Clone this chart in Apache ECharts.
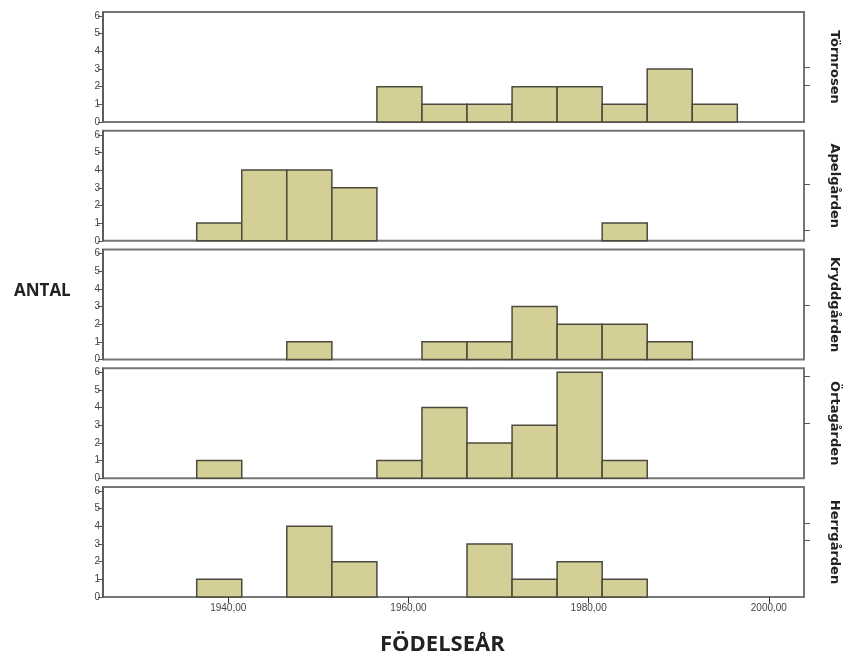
<!DOCTYPE html>
<html><head><meta charset="utf-8">
<script src="https://cdn.jsdelivr.net/npm/echarts@6/dist/echarts.min.js"></script>
<style>html,body{margin:0;padding:0;background:#fff}#c{width:849px;height:669px}</style>
</head><body><div id="c"></div>
<script>
const panels = ['Törnrosen', 'Apelgården', 'Kryddgården', 'Örtagården', 'Herrgården'];
const binCenters = [1939, 1944, 1949, 1954, 1959, 1964, 1969, 1974, 1979, 1984, 1989, 1994];
const tornrosen  = [0, 0, 0, 0, 2, 1, 1, 2, 2, 1, 3, 1];
const apelgarden = [1, 4, 4, 3, 0, 0, 0, 0, 0, 1, 0, 0];
const kryddgarden = [0, 0, 1, 0, 0, 1, 1, 3, 2, 2, 1, 0];
const ortagarden = [1, 0, 0, 0, 1, 4, 2, 3, 6, 1, 0, 0];
const herrgarden = [1, 0, 4, 2, 0, 0, 3, 1, 2, 1, 0, 0];
const binWidth = 5;
const yTicks = [0, 1, 2, 3, 4, 5, 6];
const xTicks = [1940, 1960, 1980, 2000];
const rightTicks = [[2.06, 3.1], [0.57, 3.2], [3.1], [3.1, 5.8], [3.2, 4.2]];
const seriesData = [tornrosen, apelgarden, kryddgarden, ortagarden, herrgarden];

const chart = echarts.init(document.getElementById('c'), null, {renderer: 'canvas'});
const grids = [], xAxes = [], yAxes = [], series = [];
const N = panels.length;
for (let i = 0; i < N; i++) {
  const last = i === N - 1;
  grids.push({left: 103, right: 40, top: 12 + i * 118.75, height: 110, show: true,
    borderColor: '#767676', borderWidth: 2, backgroundColor: '#fff'});
  xAxes.push({type: 'value', gridIndex: i, min: 1926.1, max: 2003.9,
    splitLine: {show: false},
    axisLine: {show: false},
    axisTick: {show: last, customValues: xTicks, length: 6, lineStyle: {color: '#333'}},
    axisLabel: {show: last, customValues: xTicks, margin: 6, fontSize: 10, color: '#444',
      fontFamily: 'Liberation Sans',
      formatter: v => v.toFixed(2).replace('.', ',')}});
  yAxes.push({type: 'value', gridIndex: i, min: 0, max: 6.23, position: 'left',
    splitLine: {show: false},
    axisLine: {show: true, lineStyle: {color: '#555', width: 1.5}},
    axisTick: {show: true, customValues: yTicks, length: 5, lineStyle: {color: '#555'}},
    axisLabel: {customValues: yTicks, fontSize: 10, color: '#444', margin: 3, fontFamily: 'Liberation Sans'}});
  series.push({type: 'custom', xAxisIndex: i, yAxisIndex: i,
    data: binCenters.map((c, k) => [c, seriesData[i][k]]),
    renderItem: (params, api) => {
      const c = api.value(0), n = api.value(1);
      if (!n) return null;
      const p0 = api.coord([c - binWidth / 2, n]);
      const p1 = api.coord([c + binWidth / 2, 0]);
      return {type: 'rect', shape: {x: p0[0], y: p0[1], width: p1[0] - p0[0], height: p1[1] - p0[1]},
        style: {fill: '#d4cf96', stroke: '#4b4a3c', lineWidth: 1.5}};
    }});
}
for (let i = 0; i < N; i++) {
  yAxes.push({type: 'value', gridIndex: i, min: 0, max: 6.23, position: 'right',
    splitLine: {show: false}, axisLine: {show: false},
    axisTick: {show: true, customValues: rightTicks[i], length: 6, lineStyle: {color: '#555'}},
    axisLabel: {show: false},
    name: panels[i], nameLocation: 'middle', nameRotate: -90, nameGap: 24,
    nameTextStyle: {fontSize: 13, fontWeight: 'bold', color: '#222', fontFamily: 'DejaVu Sans'}});
}
chart.setOption({
  animation: false,
  backgroundColor: '#fff',
  grid: grids, xAxis: xAxes, yAxis: yAxes, series: series,
  graphic: [
    {type: 'text', left: 14, top: 283, style: {text: 'ANTAL', fontSize: 17, fontWeight: 'bold',
      fill: '#222', fontFamily: 'Open Sans'}},
    {type: 'text', left: 380, top: 634, style: {text: 'FÖDELSEÅR', fontSize: 22, fontWeight: 'bold',
      fill: '#222', fontFamily: 'Open Sans'}}
  ]
});
</script></body></html>
